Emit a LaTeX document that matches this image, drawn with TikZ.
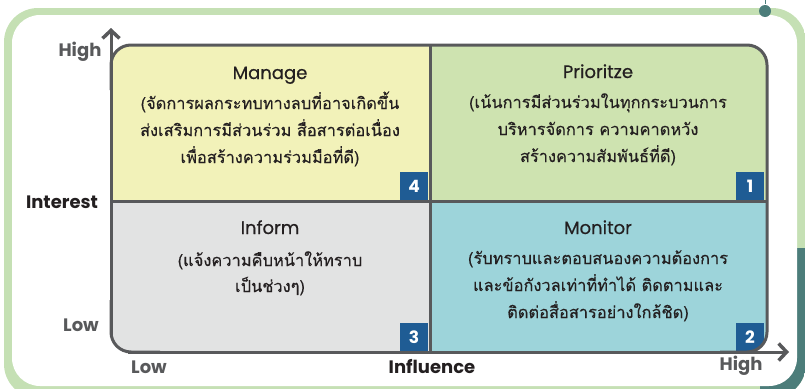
\documentclass[tikz,border=0pt]{standalone}
\usepackage{fontspec}
\setmainfont{Poppins}
\newfontfamily\titlefont{Poppins}[FakeBold=0.5]
\newfontfamily\thaifont[Script=Thai,FakeBold=0.3]{Loma}
\usetikzlibrary{arrows.meta}
\definecolor{framegreen}{HTML}{C5E0B4}
\definecolor{frameteal}{HTML}{4C7D7A}
\definecolor{axisgray}{HTML}{58595B}
\definecolor{cellyellow}{HTML}{F2F2B9}
\definecolor{cellgreen}{HTML}{CEE3B0}
\definecolor{cellgray}{HTML}{E2E3E3}
\definecolor{cellteal}{HTML}{9DD4DA}
\definecolor{badgeblue}{HTML}{1F5C94}
\definecolor{inkdark}{HTML}{231F20}
\tikzset{
  title/.style={anchor=base, text=inkdark, font=\titlefont\fontsize{18}{20}\selectfont, inner sep=0pt},
  body/.style={anchor=base, text=inkdark, font=\thaifont\fontsize{16.4}{20}\selectfont, inner sep=0pt},
  badge/.style={fill=badgeblue, text=white, minimum width=28pt, minimum height=28pt, inner sep=0pt, font=\bfseries\fontsize{17}{18}\selectfont},
  axlabel/.style={text=axisgray, font=\bfseries\fontsize{18}{20}\selectfont, inner sep=0pt},
  axname/.style={text=inkdark, font=\bfseries\fontsize{18}{20}\selectfont, inner sep=0pt},
  frameline/.style={draw=axisgray, line width=3pt},
  axisarrow/.style={draw=axisgray, line width=3pt, -{Straight Barb[length=8pt,width=17pt,line width=3.5pt]}}
}
\begin{document}
\begin{tikzpicture}[x=1pt,y=-1pt]
\useasboundingbox (0,0) rectangle (805,388);
\begin{scope}
\clip (0,0) rectangle (805,388);
% outer frame
\begin{scope}
\clip[rounded corners=34pt] (4,8) rectangle (806,398);
\fill[framegreen] (4,8) rectangle (806,398);
\fill[frameteal] (760,248) rectangle (806,398);
\end{scope}
\fill[white, rounded corners=28pt] (12,15) rectangle (797,386);
\draw[frameteal, line width=1pt] (765,0) -- (765,4);
\fill[frameteal] (765,11) circle (6pt);
% matrix cells
\begin{scope}
\clip[rounded corners=20pt] (111,45) rectangle (767,352);
\fill[cellyellow] (111,45) rectangle (430,201);
\fill[cellgreen] (430,45) rectangle (767,201);
\fill[cellgray] (111,201) rectangle (430,352);
\fill[cellteal] (430,201) rectangle (767,352);
\node[badge] (b4) at (414,186) {4};
\node[badge] (b1) at (750,186) {1};
\node[badge] (b3) at (414,337) {3};
\node[badge] (b2) at (750,337) {2};
\end{scope}
% outline
\draw[frameline, rounded corners=20pt] (111,90) -- (111,45) -- (767,45) -- (767,352) -- (720,352);
\draw[frameline, rounded corners=20pt] (111,300) -- (111,352) -- (160,352);
\draw[frameline] (430,45) -- (430,352);
\draw[frameline] (111,201) -- (767,201);
% axes
\coordinate (yfrom) at (111,335);
\coordinate (yto) at (111,28);
\coordinate (xfrom) at (128,352);
\coordinate (xto) at (789,352);
\draw[axisarrow] (yfrom) -- (yto);
\draw[axisarrow] (xfrom) -- (xto);
% axis labels
\node[axlabel] (yhigh) at (80,52) {High};
\node[axname] (yname) at (62,202) {Interest};
\node[axlabel] (ylow) at (81,325) {Low};
\node[axlabel] (xlow) at (149,367) {Low};
\node[axname] (xname) at (432,367) {Influence};
\node[axlabel] (xhigh) at (741,366) {High};
% cell texts
\node[title] (tManage) at (270,79) {Manage};
\node[body] (m1) at (270,109) {(จัดการผลกระทบทางลบที่อาจเกิดขึ้น};
\node[body] (m2) at (270,136) {ส่งเสริมการมีส่วนร่วม สื่อสารต่อเนื่อง};
\node[body] (m3) at (270,163) {เพื่อสร้างความร่วมมือที่ดี)};
\node[title] (tPrior) at (598,78) {Prioritze};
\node[body] (p1) at (598,108) {(เน้นการมีส่วนร่วมในทุกกระบวนการ};
\node[body] (p2) at (598,135) {บริหารจัดการ ความคาดหวัง};
\node[body] (p3) at (598,162) {สร้างความสัมพันธ์ที่ดี)};
\node[title] (tInform) at (270,234) {Inform};
\node[body] (i1) at (270,266) {(แจ้งความคืบหน้าให้ทราบ};
\node[body] (i2) at (270,292) {เป็นช่วงๆ)};
\node[title] (tMonitor) at (598,234) {Monitor};
\node[body] (n1) at (598,264) {(รับทราบและตอบสนองความต้องการ};
\node[body] (n2) at (598,291) {และข้อกังวลเท่าที่ทำได้ ติดตามและ};
\node[body] (n3) at (598,318) {ติดต่อสื่อสารอย่างใกล้ชิด)};
\end{scope}
\end{tikzpicture}
\end{document}
